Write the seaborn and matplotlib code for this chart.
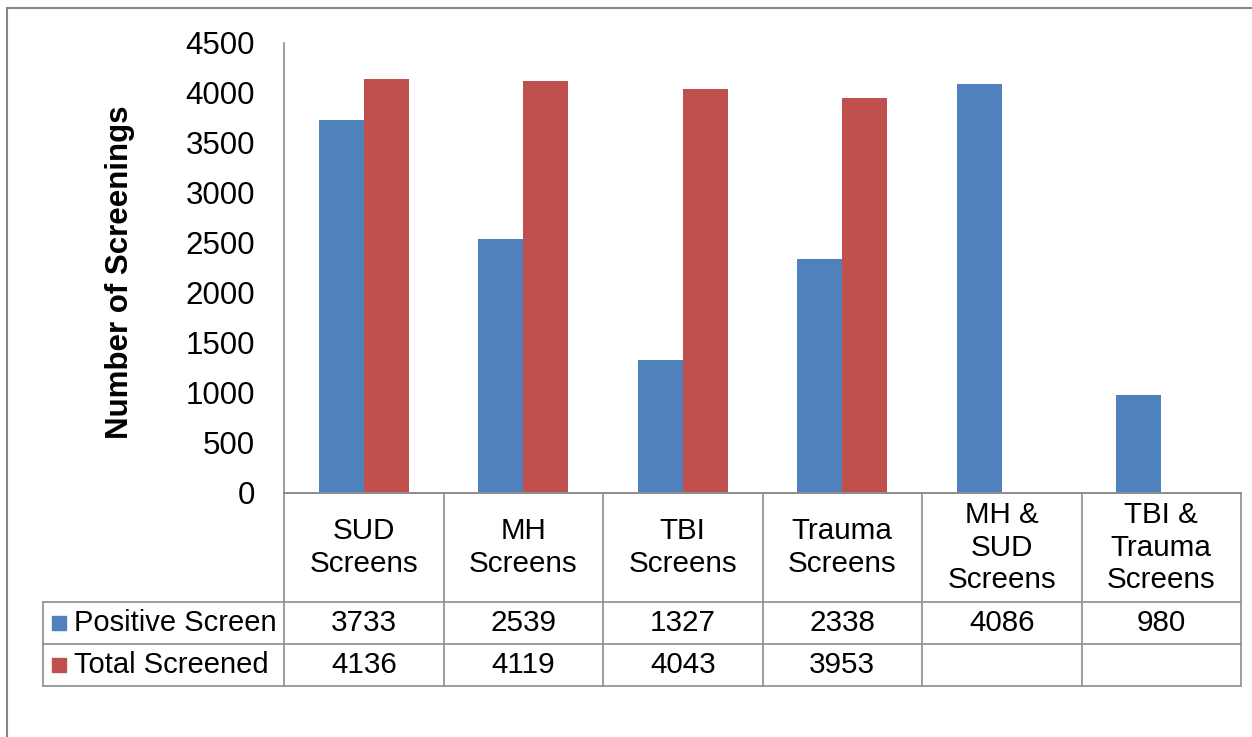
import pandas as pd
import numpy as np
import matplotlib
matplotlib.use('Agg')
import matplotlib.pyplot as plt
import matplotlib.transforms as mtransforms
import seaborn as sns

# Chart data
categories = ['SUD\nScreens', 'MH\nScreens', 'TBI\nScreens', 'Trauma\nScreens',
              'MH &\nSUD\nScreens', 'TBI &\nTrauma\nScreens']
series = ['Positive Screen', 'Total Screened']
positive_screen = [3733, 2539, 1327, 2338, 4086, 980]
total_screened = [4136, 4119, 4043, 3953, np.nan, np.nan]
y_ticks = [0, 500, 1000, 1500, 2000, 2500, 3000, 3500, 4000, 4500]

colors = ['#4F81BD', '#C0504D']
grid_col = '#8C8C8C'

df = pd.DataFrame({
    'Category': categories * 2,
    'Series': [series[0]] * len(categories) + [series[1]] * len(categories),
    'Value': positive_screen + total_screened,
})

sns.set_style('white')
plt.rcParams['font.family'] = ['Liberation Sans', 'DejaVu Sans']
plt.rcParams['text.color'] = 'black'
plt.rcParams['ytick.color'] = 'black'
fs_tick = 22.5
fs_tab = 21.3

W, H = 1252, 737
fig = plt.figure(figsize=(W / 100, H / 100), dpi=100)
# axes in pixel positions: left 284, right 1241, top 43, bottom 493
ax = fig.add_axes([284 / W, 1 - 493 / H, (1241 - 284) / W, (493 - 43) / H])

sns.barplot(data=df, x='Category', y='Value', hue='Series', hue_order=series,
            order=categories, palette=colors, width=0.564, saturation=1,
            linewidth=0, ax=ax, legend=False)

ax.set_xlim(-0.5, len(categories) - 0.5)
ax.set_ylim(0, 4500)
ax.set_yticks(y_ticks)
ax.set_yticklabels([str(t) for t in y_ticks], fontsize=fs_tick, color='black')
ax.tick_params(axis='y', length=0, pad=21)
ax.set_xticks([])
ax.set_xlabel('')
ax.set_ylabel('')
for s in ['top', 'right']:
    ax.spines[s].set_visible(False)
ax.spines['left'].set_color(grid_col)
ax.spines['bottom'].set_color(grid_col)
ax.spines['left'].set_linewidth(1.2)
ax.spines['bottom'].set_linewidth(1.2)

fig.text(120 / W, 1 - 272 / H, 'Number of Screenings', rotation=90,
         ha='center', va='center', fontsize=fs_tick, fontweight='bold')

# Data table below the axis
trans = mtransforms.blended_transform_factory(ax.transData, ax.transAxes)
px = 450.0
y_head = -(602 - 493) / px
y_r1 = -(644 - 493) / px
y_r2 = -(686 - 493) / px
x_left = -0.5 - (284 - 43) / 159.5
n = len(categories)
lw = 1.2

def hline(x0, x1, y):
    ax.plot([x0, x1], [y, y], color=grid_col, lw=lw, transform=trans, clip_on=False)

def vline(x, y0, y1):
    ax.plot([x, x], [y0, y1], color=grid_col, lw=lw, transform=trans, clip_on=False)

hline(-0.5, n - 0.5, 0)
hline(x_left, n - 0.5, y_head)
hline(x_left, n - 0.5, y_r1)
hline(x_left, n - 0.5, y_r2)
for i in range(n + 1):
    vline(i - 0.5, 0, y_r2)
vline(x_left, y_head, y_r2)

for i, cat in enumerate(categories):
    ax.text(i, y_head / 2, cat, ha='center', va='center', fontsize=fs_tab,
            linespacing=1.2, transform=trans)
    ax.text(i, (y_head + y_r1) / 2, f'{positive_screen[i]:.0f}', ha='center',
            va='center', fontsize=fs_tab, transform=trans)
    if not np.isnan(total_screened[i]):
        ax.text(i, (y_r1 + y_r2) / 2, f'{total_screened[i]:.0f}', ha='center',
                va='center', fontsize=fs_tab, transform=trans)

# legend keys inside the table
key_x = x_left + (59 - 43) / 159.5
txt_x = x_left + (74 - 43) / 159.5
for (yt, yb), name, col in zip([(y_head, y_r1), (y_r1, y_r2)], series, colors):
    ym = (yt + yb) / 2
    ax.plot([key_x], [ym], marker='s', ms=10.5, color=col, transform=trans,
            clip_on=False, linestyle='none')
    ax.text(txt_x, ym, name, ha='left', va='center', fontsize=21, transform=trans)

# outer chart border
fig.add_artist(plt.Rectangle((7 / W, -0.1), 1.2, 1.1 - 8 / H,
                             transform=fig.transFigure, fill=False,
                             edgecolor='#878787', lw=1.5))

fig.savefig('out.png', dpi=100)
